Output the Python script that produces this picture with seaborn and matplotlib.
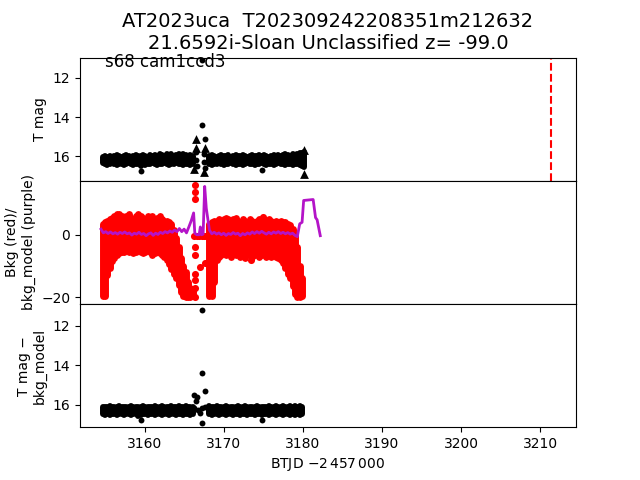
import matplotlib
matplotlib.use('Agg')
from matplotlib import pyplot as plt
import seaborn as sns
import pandas as pd

# time grid of the two sectors (BTJD - 2457000)
t_seg1 = [3154.7, 3155.0, 3155.3, 3155.6, 3155.9, 3156.2, 3156.5, 3156.8, 3157.1, 3157.4,
          3157.7, 3158.0, 3158.3, 3158.6, 3158.9, 3159.2, 3159.5, 3159.8, 3160.1, 3160.4,
          3160.7, 3161.0, 3161.3, 3161.6, 3161.9, 3162.2, 3162.5, 3162.8, 3163.1, 3163.4,
          3163.7, 3164.0, 3164.3, 3164.6, 3164.9, 3165.2, 3165.5, 3165.8, 3166.1]
t_seg2 = [3168.2, 3168.5, 3168.8, 3169.1, 3169.4, 3169.7, 3170.0, 3170.3, 3170.6, 3170.9,
          3171.2, 3171.5, 3171.8, 3172.1, 3172.4, 3172.7, 3173.0, 3173.3, 3173.6, 3173.9,
          3174.2, 3174.5, 3174.8, 3175.1, 3175.4, 3175.7, 3176.0, 3176.3, 3176.6, 3176.9,
          3177.2, 3177.5, 3177.8, 3178.1, 3178.4, 3178.7, 3179.0, 3179.3, 3179.6, 3179.9, 3180.2]

# T mag band (bright / faint edge)
tmag_lo1 = [16.05, 16.0, 16.05, 16.0, 16.05, 16.0, 15.95, 16.0, 16.05, 16.0, 15.95, 16.0, 16.05,
            16.0, 15.95, 16.0, 16.0, 15.95, 16.0, 16.05, 15.95, 16.0, 15.95, 16.0, 15.9, 15.95,
            16.0, 15.9, 15.95, 15.9, 16.0, 15.95, 15.9, 15.95, 15.9, 15.95, 16.0, 15.95, 16.0]
tmag_hi1 = [16.35, 16.4, 16.45, 16.4, 16.35, 16.4, 16.45, 16.4, 16.4, 16.45, 16.4, 16.35, 16.4,
            16.45, 16.4, 16.4, 16.5, 16.4, 16.45, 16.4, 16.4, 16.35, 16.4, 16.45, 16.4, 16.4,
            16.35, 16.4, 16.45, 16.4, 16.4, 16.35, 16.4, 16.4, 16.45, 16.4, 16.4, 16.45, 16.4]
tmag_lo2 = [16.0, 15.95, 16.0, 16.05, 16.0, 15.95, 16.0, 16.0, 15.95, 16.05, 16.0, 15.95, 16.0,
            16.0, 15.95, 16.0, 16.05, 16.0, 15.95, 16.0, 16.0, 15.95, 16.0, 15.95, 16.0, 16.05,
            16.0, 15.95, 16.0, 15.95, 16.0, 15.95, 15.9, 15.95, 16.0, 15.9, 15.95, 15.9, 15.85,
            15.85, 15.8]
tmag_hi2 = [16.4, 16.45, 16.4, 16.4, 16.35, 16.4, 16.45, 16.4, 16.4, 16.35, 16.4, 16.45, 16.4,
            16.4, 16.45, 16.4, 16.35, 16.4, 16.4, 16.45, 16.4, 16.4, 16.35, 16.4, 16.45, 16.4,
            16.4, 16.45, 16.4, 16.35, 16.4, 16.4, 16.45, 16.4, 16.4, 16.45, 16.4, 16.4, 16.45,
            16.5, 16.55]

# extra T mag points
tmag_dot_t = [3167.2, 3167.2, 3167.6, 3166.5, 3166.5, 3166.6, 3167.5, 3167.5, 3167.6, 3159.5, 3174.9]
tmag_dot_m = [11.1, 14.4, 15.1, 15.8, 16.2, 16.5, 15.9, 16.3, 16.6, 16.75, 16.7]
tmag_tri_t = [3166.5, 3166.5, 3167.6, 3166.3, 3167.5, 3180.1, 3180.1]
tmag_tri_m = [15.1, 15.6, 15.6, 16.65, 16.8, 15.7, 16.9]

# background (red) band lower / upper edge
bkg_lo1 = [-19.5, -19.5, -13.0, -10.5, -8.5, -7.5, -6.5, -6.0, -5.5, -5.5, -5.0, -5.5, -5.0,
           -6.0, -5.5, -5.0, -5.5, -6.0, -5.5, -5.0, -5.5, -6.5, -6.0, -5.5, -6.0, -6.5, -7.0,
           -8.0, -9.5, -11.0, -12.5, -14.0, -16.0, -18.5, -19.5, -20.0, -20.0, -20.0, -19.5]
bkg_hi1 = [3.5, 4.0, 4.5, 5.0, 5.5, 6.0, 6.5, 6.5, 6.0, 5.5, 6.0, 6.5, 5.5, 5.0, 6.0, 6.5, 6.0,
           5.5, 5.0, 6.0, 5.5, 6.0, 5.0, 5.5, 6.0, 5.0, 4.5, 4.5, 4.0, 3.5, 1.5, -1.0, -4.0,
           -7.5, -10.0, -12.0, -15.0, -17.0, -18.0]
bkg_lo2 = [-19.5, -19.5, -15.0, -8.0, -7.0, -6.5, -6.0, -6.5, -6.0, -7.0, -6.0, -6.5, -6.0,
           -7.0, -6.5, -7.5, -6.0, -6.5, -7.0, -6.5, -6.0, -7.0, -6.5, -6.0, -7.0, -6.5, -7.0,
           -6.5, -7.0, -7.5, -8.0, -9.0, -10.5, -12.5, -14.0, -16.5, -19.0, -20.0, -20.0, -19.5]
bkg_hi2 = [3.5, 4.0, 4.5, 4.5, 5.0, 4.5, 5.0, 5.5, 5.0, 4.5, 5.0, 5.5, 4.5, 4.0, 5.0, 4.5, 4.0,
           5.0, 4.5, 4.0, 4.5, 5.0, 4.5, 4.0, 4.5, 5.0, 4.5, 4.0, 4.5, 4.0, 4.5, 4.0, 4.0, 3.5,
           3.0, 2.0, 0.0, -4.0, -10.0, -14.0]
bkg_dot_t = [3166.4, 3166.4, 3166.4, 3166.4, 3166.4, 3166.4, 3166.4, 3166.4, 3166.4, 3167.05,
             3167.6, 3166.3, 3166.6, 3166.9, 3167.2, 3167.5, 3167.8, 3155.2, 3175.0, 3173.5]
bkg_dot_v = [16.0, 13.6, 11.5, -4.0, -6.5, -12.5, -14.5, -17.0, -19.8, -10.3, -9.0,
             -0.5, -0.5, -0.5, -0.5, -0.5, -0.5, 3.5, 5.8, -8.0]

# background model (purple)
model_t = [3154.5, 3154.8, 3155.1, 3155.4, 3155.7, 3156.0, 3156.3, 3156.6, 3156.9, 3157.2,
           3157.5, 3157.8, 3158.1, 3158.4, 3158.7, 3159.0, 3159.3, 3159.6, 3159.9, 3160.2,
           3160.5, 3160.8, 3161.1, 3161.4, 3161.7, 3162.0, 3162.3, 3162.6, 3162.9, 3163.2,
           3163.5, 3163.8, 3164.1, 3164.4, 3164.7, 3165.0, 3165.3, 3165.6, 3165.9, 3166.2,
           3166.35, 3166.6, 3166.9, 3167.05, 3167.2, 3167.4, 3167.6, 3167.8, 3168.0, 3168.2,
           3168.5, 3168.8, 3169.1, 3169.4, 3169.7, 3170.0, 3170.3, 3170.6, 3170.9, 3171.2,
           3171.5, 3171.8, 3172.1, 3172.4, 3172.7, 3173.0, 3173.3, 3173.6, 3173.9, 3174.2,
           3174.5, 3174.8, 3175.1, 3175.4, 3175.7, 3176.0, 3176.3, 3176.6, 3176.9, 3177.2,
           3177.5, 3177.8, 3178.1, 3178.4, 3178.7, 3179.0, 3179.3, 3179.6, 3179.9, 3180.1,
           3181.3, 3181.6, 3181.8, 3182.2]
model_v = [1.8, 0.6, 1.0, 0.4, 0.9, 0.3, 0.7, 0.2, 0.8, 0.4,
           0.9, 0.3, 0.6, -0.1, 0.5, 0.2, 0.8, 0.1, 0.4, -0.3,
           0.3, 0.6, -0.2, 0.5, 0.1, 0.8, 0.4, 1.0, 0.6, 1.2,
           0.8, 1.5, 1.0, 2.0, 1.0, 1.8, 0.6, 2.5, 4.5, 7.0,
           0.5, 0.0, 0.0, 2.5, 0.0, 0.2, 15.5, 8.5, 5.0, 1.5,
           0.3, 0.8, 0.2, 0.6, 0.0, 0.5, -0.2, 0.4, 0.1, 0.7,
           0.2, 0.5, -0.3, 0.4, 0.0, 0.6, 0.2, 0.9, 0.4, 1.0,
           0.5, 1.1, 0.6, 0.2, 0.8, 0.3, 0.9, 0.5, 1.0, 0.4,
           0.8, 0.3, 0.7, 0.2, 0.5, -0.2, -0.6, 3.5, 4.0, 11.0,
           11.3, 5.5, 4.8, -0.3]

# T mag - bkg_model band
diff_lo1 = [16.1, 16.15, 16.1, 16.05, 16.1, 16.15, 16.1, 16.05, 16.1, 16.15, 16.1, 16.1, 16.05,
            16.1, 16.15, 16.1, 16.1, 16.05, 16.1, 16.1, 16.15, 16.1, 16.05, 16.1, 16.1, 16.05,
            16.1, 16.15, 16.1, 16.05, 16.1, 16.1, 16.05, 16.1, 16.1, 16.05, 16.1, 16.1, 16.15]
diff_hi1 = [16.5, 16.55, 16.5, 16.55, 16.5, 16.5, 16.55, 16.5, 16.5, 16.55, 16.5, 16.5, 16.55,
            16.5, 16.5, 16.6, 16.55, 16.5, 16.5, 16.55, 16.5, 16.5, 16.55, 16.5, 16.5, 16.55,
            16.5, 16.5, 16.55, 16.5, 16.5, 16.55, 16.5, 16.5, 16.55, 16.5, 16.5, 16.55, 16.5]
diff_lo2 = [16.05, 16.1, 16.1, 16.05, 16.1, 16.15, 16.1, 16.05, 16.1, 16.1, 16.15, 16.1, 16.05,
            16.1, 16.1, 16.05, 16.1, 16.15, 16.1, 16.1, 16.05, 16.1, 16.1, 16.15, 16.1, 16.05,
            16.1, 16.1, 16.05, 16.1, 16.1, 16.05, 16.1, 16.1, 16.05, 16.1, 16.05, 16.1, 16.05,
            16.1]
diff_hi2 = [16.5, 16.55, 16.5, 16.5, 16.55, 16.5, 16.5, 16.55, 16.5, 16.5, 16.55, 16.5, 16.5,
            16.55, 16.5, 16.5, 16.55, 16.5, 16.5, 16.55, 16.5, 16.5, 16.55, 16.5, 16.5, 16.55,
            16.5, 16.5, 16.55, 16.5, 16.5, 16.55, 16.5, 16.5, 16.55, 16.5, 16.55, 16.5, 16.55,
            16.5]
diff_dot_t = [3167.2, 3167.2, 3167.6, 3166.3, 3166.5, 3166.6, 3166.3, 3166.7, 3167.3, 3167.7,
              3167.0, 3167.2, 3159.5, 3174.9]
diff_dot_m = [11.2, 14.4, 15.3, 15.5, 15.8, 15.6, 16.2, 16.3, 16.2, 16.1,
              16.45, 16.95, 16.8, 16.8]

discovery_t = 3211.35


def band(ax, t, lo, hi, color, lw):
    '''
    dense cloud of points drawn as its per-time envelope
    '''
    ax.vlines(t, lo, hi, color=color, lw=lw, capstyle='round')


fig, axes = plt.subplots(3, 1, sharex=True, figsize=(6.4, 4.8))
plt.subplots_adjust(hspace=0)
ax1, ax2, ax3 = axes

# top: T mag
band(ax1, t_seg1, tmag_lo1, tmag_hi1, 'k', 4.3)
band(ax1, t_seg2, tmag_lo2, tmag_hi2, 'k', 4.3)
sns.scatterplot(x=tmag_dot_t, y=tmag_dot_m, color='k', s=18, linewidth=0, ax=ax1)
sns.scatterplot(x=tmag_tri_t, y=tmag_tri_m, color='k', marker='^', s=40, linewidth=0, ax=ax1)
ax1.axvline(discovery_t, color='r', ls='--', lw=1.5)
ax1.set_ylim(17.25, 10.97)
ax1.set_yticks([12, 14, 16])
ax1.set_ylabel('T mag')
ax1.text(0.05, 0.967, 's68 cam1ccd3', transform=ax1.transAxes, fontsize=12, va='center')
ax1.set_title('AT2023uca  T202309242208351m212632\n21.6592i-Sloan Unclassified z= -99.0',
              fontsize=14)

# middle: background and model
band(ax2, t_seg1, bkg_lo1, bkg_hi1, 'r', 5)
band(ax2, t_seg2[:-1], bkg_lo2, bkg_hi2, 'r', 5)
sns.scatterplot(x=bkg_dot_t, y=bkg_dot_v, color='r', s=26, linewidth=0, ax=ax2)
model = pd.DataFrame({'t': model_t, 'v': model_v})
sns.lineplot(data=model, x='t', y='v', color='#b414c8', lw=2, sort=False, estimator=None, ax=ax2)
ax2.set_ylim(-22.2, 17.3)
ax2.set_yticks([-20, 0])
ax2.set_ylabel('Bkg (red)/\nbkg_model (purple)')

# bottom: T mag - bkg_model
band(ax3, t_seg1, diff_lo1, diff_hi1, 'k', 4.3)
band(ax3, t_seg2[:-1], diff_lo2, diff_hi2, 'k', 4.3)
sns.scatterplot(x=diff_dot_t, y=diff_dot_m, color='k', s=18, linewidth=0, ax=ax3)
ax3.set_ylim(17.15, 10.9)
ax3.set_yticks([12, 14, 16])
ax3.set_ylabel('T mag \u2212\nbkg_model')

for ax in (ax1, ax2):
    ax.tick_params(axis='x', bottom=False)
ax3.set_xlim(3151.85, 3214.5)
ax3.set_xlabel('BTJD $-2\\,457\\,000$')

plt.savefig('out.png', dpi=100)
